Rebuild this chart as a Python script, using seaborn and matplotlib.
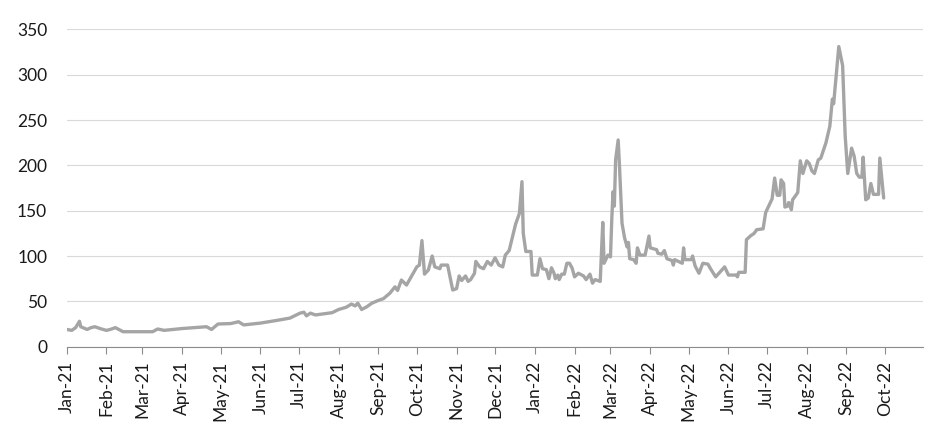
import matplotlib
matplotlib.use("Agg")
import matplotlib.pyplot as plt
import matplotlib.dates as mdates
import pandas as pd
import seaborn as sns

# 读图估计的数据点
dates = [
    "2021-01-01", "2021-01-05", "2021-01-08", "2021-01-11", "2021-01-12", "2021-01-17",
    "2021-01-20", "2021-01-23", "2021-01-27", "2021-02-01", "2021-02-04", "2021-02-08",
    "2021-02-14", "2021-02-20", "2021-03-01", "2021-03-09", "2021-03-13", "2021-03-18",
    "2021-03-25", "2021-04-01", "2021-04-10", "2021-04-20", "2021-04-24", "2021-04-29",
    "2021-05-09", "2021-05-15", "2021-05-19", "2021-06-01", "2021-06-14", "2021-06-24",
    "2021-07-02", "2021-07-05", "2021-07-07", "2021-07-10", "2021-07-14", "2021-07-27",
    "2021-08-01", "2021-08-07", "2021-08-11", "2021-08-14", "2021-08-16", "2021-08-19",
    "2021-08-23", "2021-08-27", "2021-09-01", "2021-09-05", "2021-09-10", "2021-09-14",
    "2021-09-16", "2021-09-19", "2021-09-23", "2021-10-01", "2021-10-03", "2021-10-05",
    "2021-10-07", "2021-10-10", "2021-10-13", "2021-10-15", "2021-10-19", "2021-10-20",
    "2021-10-25", "2021-10-29", "2021-11-01", "2021-11-03", "2021-11-05", "2021-11-08",
    "2021-11-10", "2021-11-12", "2021-11-15", "2021-11-16", "2021-11-19", "2021-11-22",
    "2021-11-25", "2021-11-28", "2021-12-01", "2021-12-04", "2021-12-07", "2021-12-09",
    "2021-12-12", "2021-12-16", "2021-12-17", "2021-12-20", "2021-12-22", "2021-12-23",
    "2021-12-25", "2021-12-29", "2021-12-30", "2022-01-03", "2022-01-05", "2022-01-07",
    "2022-01-10", "2022-01-12", "2022-01-14", "2022-01-16", "2022-01-17", "2022-01-19",
    "2022-01-20", "2022-01-22", "2022-01-24", "2022-01-26", "2022-01-28", "2022-01-30",
    "2022-02-01", "2022-02-04", "2022-02-08", "2022-02-10", "2022-02-13", "2022-02-15",
    "2022-02-17", "2022-02-21", "2022-02-23", "2022-02-24", "2022-02-27", "2022-03-01",
    "2022-03-02", "2022-03-03", "2022-03-04", "2022-03-05", "2022-03-07", "2022-03-08",
    "2022-03-10", "2022-03-12", "2022-03-14", "2022-03-15", "2022-03-16", "2022-03-19",
    "2022-03-21", "2022-03-22", "2022-03-24", "2022-03-28", "2022-03-31", "2022-04-01",
    "2022-04-06", "2022-04-07", "2022-04-10", "2022-04-12", "2022-04-14", "2022-04-18",
    "2022-04-19", "2022-04-20", "2022-04-26", "2022-04-27", "2022-04-28", "2022-05-03",
    "2022-05-04", "2022-05-06", "2022-05-09", "2022-05-12", "2022-05-16", "2022-05-18",
    "2022-05-22", "2022-05-29", "2022-06-01", "2022-06-07", "2022-06-08", "2022-06-09",
    "2022-06-14", "2022-06-15", "2022-06-18", "2022-06-21", "2022-06-23", "2022-06-28",
    "2022-06-30", "2022-07-01", "2022-07-05", "2022-07-07", "2022-07-09", "2022-07-11",
    "2022-07-12", "2022-07-14", "2022-07-15", "2022-07-17", "2022-07-18", "2022-07-20",
    "2022-07-21", "2022-07-25", "2022-07-27", "2022-07-29", "2022-08-01", "2022-08-03",
    "2022-08-05", "2022-08-07", "2022-08-10", "2022-08-12", "2022-08-16", "2022-08-19",
    "2022-08-21", "2022-08-22", "2022-08-26", "2022-08-29", "2022-08-31", "2022-09-02",
    "2022-09-05", "2022-09-07", "2022-09-09", "2022-09-11", "2022-09-13", "2022-09-14",
    "2022-09-16", "2022-09-18", "2022-09-20", "2022-09-22", "2022-09-26", "2022-09-27",
    "2022-09-30",
]
values = [
    19, 18, 21, 28, 22, 19,
    21, 22, 20, 18, 19, 21,
    16.5, 16.5, 16.5, 16.5, 19.5, 18,
    19, 20, 21, 22, 19, 25,
    25.5, 27.5, 24, 26, 29, 31.5,
    37, 38, 34, 37, 35, 37.5,
    41, 43.5, 47, 45, 48, 41,
    44, 48, 51, 53, 59, 66,
    62, 73.5, 68, 88, 90, 117,
    80, 84.5, 100, 88, 86, 90,
    90, 62.5, 64, 78, 73, 78,
    72, 74, 81, 94, 88, 86,
    94, 90, 98, 90, 88, 101,
    106, 129, 135, 147, 182, 125,
    105, 105, 79, 79, 97, 86,
    85, 75, 87, 81, 75, 79,
    74, 80, 80, 92, 92, 87,
    77, 81, 78, 74, 80, 70,
    74, 72, 137, 92, 101, 99,
    140, 171, 155, 206, 228, 200,
    136, 120, 110, 115, 97, 96,
    92, 109, 101, 101, 122, 109,
    107, 103, 102, 106, 97, 95,
    90, 96, 92, 109, 96, 96,
    100, 89, 81, 92, 91, 86,
    77, 88, 79, 79, 77, 82,
    82, 118, 122, 125, 129, 130,
    148, 151, 163, 186, 167, 167,
    184, 180, 154, 155, 159, 151,
    162, 170, 205, 191, 205, 202,
    194, 191, 206, 208, 225, 243,
    273, 268, 331, 310, 232, 191,
    219, 210, 191, 187, 187, 209,
    162, 164, 180, 168, 168, 208,
    164,
]

sns.set_style("white")
plt.rcParams["font.family"] = ["Lato", "DejaVu Sans"]

df = pd.DataFrame({"date": pd.to_datetime(dates), "value": values})

fig, ax = plt.subplots(figsize=(9.52, 4.38), dpi=100)
fig.subplots_adjust(left=0.070, right=0.970, bottom=0.2085, top=0.933)

sns.lineplot(data=df, x="date", y="value", color="#A5A5A5", linewidth=2.4, ax=ax)

ax.set_ylim(0, 350)
ax.set_yticks(range(0, 351, 50))
ax.set_xlim(pd.Timestamp("2021-01-01"), pd.Timestamp("2022-10-31"))
ax.xaxis.set_major_locator(mdates.MonthLocator())
ax.xaxis.set_major_formatter(mdates.DateFormatter("%b-%y"))

ax.yaxis.grid(True, color="#D9D9D9", linewidth=0.8)
ax.set_axisbelow(True)
for s in ["left", "top", "right"]:
    ax.spines[s].set_visible(False)
ax.spines["bottom"].set_color("#8C8C8C")

ax.tick_params(axis="x", direction="out", length=5, width=0.8, color="#8C8C8C",
               rotation=90, labelsize=12.5, labelcolor="#1a1a1a", pad=5, bottom=True)
ax.tick_params(axis="y", length=0, labelsize=12.5, labelcolor="#1a1a1a", pad=14)
ax.set_xlabel("")
ax.set_ylabel("")

plt.savefig("out.png", dpi=100)
plt.close()
